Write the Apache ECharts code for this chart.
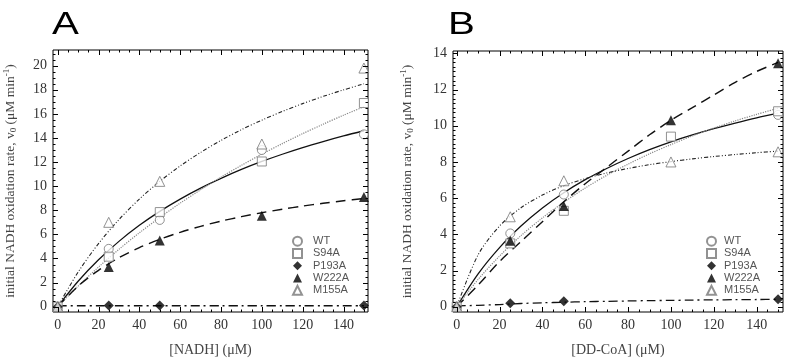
<!DOCTYPE html>
<html>
<head>
<meta charset="utf-8">
<script src="https://cdn.jsdelivr.net/npm/echarts@6/dist/echarts.min.js"></script>
<style>
  html, body { margin: 0; padding: 0; background: #fff; }
  #chart { width: 787px; height: 358px; }
</style>
</head>
<body>
<div id="chart"></div>
<script>
// substrate concentrations (uM) of the measured points
const concX = [0, 25, 50, 100, 150];

// panel A: [NADH] varied
const aWT = [0, 4.8, 7.2, 13.0, 14.3];
const aS94A = [0, 4.15, 7.85, 12.05, 16.9];
const aP193A = [0, 0.1, 0.1, null, 0.1];
const aW222A = [0, 3.3, 5.5, 7.55, 9.1];
const aM155A = [0, 7.0, 10.4, 13.5, 19.8];

// panel B: [DD-CoA] varied
const bWT = [0, 4.05, 6.2, null, 10.6];
const bS94A = [0, 3.5, 5.3, 9.4, 10.8];
const bP193A = [0, 0.19, 0.31, null, 0.41];
const bW222A = [0, 3.65, 5.56, 10.3, 13.45];
const bM155A = [0, 4.97, 6.96, 8.0, 8.56];

// fitted curves, every 10 uM
const fitX = [0, 10, 20, 30, 40, 50, 60, 70, 80, 90, 100, 110, 120, 130, 140, 150];
const aFitSolid = [0, 2.11, 3.89, 5.42, 6.75, 7.91, 8.93, 9.84, 10.65, 11.39, 12.05, 12.65, 13.2, 13.7, 14.17, 14.6];
const aFitDotted = [0, 1.71, 3.29, 4.76, 6.13, 7.4, 8.59, 9.7, 10.75, 11.73, 12.66, 13.53, 14.36, 15.14, 15.89, 16.59];
const aFitDashDot = [0.08, 0.08, 0.08, 0.08, 0.08, 0.08, 0.08, 0.08, 0.08, 0.08, 0.08, 0.08, 0.08, 0.08, 0.08, 0.08];
const aFitDash = [0, 1.71, 3.02, 4.06, 4.9, 5.59, 6.17, 6.67, 7.1, 7.47, 7.8, 8.09, 8.35, 8.58, 8.79, 8.98];
const aFitDashDotDot = [0, 2.87, 5.24, 7.23, 8.93, 10.4, 11.68, 12.8, 13.8, 14.69, 15.48, 16.2, 16.85, 17.45, 17.99, 18.5];

const bFitSolid = [0, 1.82, 3.27, 4.46, 5.46, 6.3, 7.02, 7.64, 8.19, 8.68, 9.11, 9.49, 9.84, 10.15, 10.44, 10.7];
const bFitDotted = [0, 1.51, 2.8, 3.93, 4.91, 5.78, 6.56, 7.26, 7.88, 8.45, 8.96, 9.44, 9.87, 10.27, 10.63, 10.97];
const bFitDashDot = [0.05, 0.08, 0.12, 0.18, 0.22, 0.25, 0.28, 0.3, 0.32, 0.34, 0.35, 0.37, 0.38, 0.39, 0.4, 0.41];
const bFitDash = [0, 1.2, 2.5, 3.6, 4.7, 5.8, 6.8, 7.7, 8.6, 9.5, 10.3, 11.0, 11.7, 12.4, 13.0, 13.5];
const bFitDashDotDot = [0, 2.87, 4.46, 5.47, 6.17, 6.69, 7.08, 7.39, 7.64, 7.85, 8.02, 8.17, 8.3, 8.41, 8.51, 8.6];

// tick labels
const xTicks = [0, 20, 40, 60, 80, 100, 120, 140];
const aYTicks = [0, 2, 4, 6, 8, 10, 12, 14, 16, 18, 20];
const bYTicks = [0, 2, 4, 6, 8, 10, 12, 14];
const legendNames = ['WT', 'S94A', 'P193A', 'W222A', 'M155A'];

function steps(from, to, step) {
  var out = [];
  for (var v = from; v <= to + 1e-9; v += step) out.push(+v.toFixed(3));
  return out;
}
// minor tick positions
const xMinor = steps(0, 150, 5);
const aYMinor = steps(0, 21, 0.5);
const bYMinor = steps(0, 14, 0.25);

const serif = 'Liberation Serif';
const sans = 'Liberation Sans';
const yName = 'initial NADH oxidation rate, v{sub|0} (μM min{sup|-1})';

const nameStyle = {
  fontFamily: serif, fontSize: 13.5, color: '#444',
  rich: {
    sub: { fontFamily: serif, fontSize: 9, color: '#444', padding: [7, 0, 0, 0] },
    sup: { fontFamily: serif, fontSize: 9, color: '#444', padding: [0, 0, 7, 0] }
  }
};

// labelled axis of a panel; the frame comes from the grid border
function mainAxis(grid, pos, min, max, labels, name, gap) {
  return {
    gridIndex: grid, type: 'value', position: pos, min: min, max: max,
    axisLine: { show: false, onZero: false },
    axisTick: { show: false },
    splitLine: { show: false },
    axisLabel: { show: true, customValues: labels, fontFamily: serif, fontSize: 14, color: '#333', margin: 6 },
    name: name, nameLocation: 'middle', nameGap: gap,
    nameTextStyle: Object.assign({}, nameStyle, { fontSize: pos === 'bottom' ? 14 : 13.5 })
  };
}

// inside ticks on all four sides of the frame, placed through the axis scale
function tickSeries(axis, dim, values, majors) {
  return {
    type: 'custom', xAxisIndex: axis, yAxisIndex: axis, silent: true, z: 10,
    data: values.map(function (v) { return [v, majors.indexOf(v) >= 0 ? 5 : 2.5]; }),
    renderItem: function (params, api) {
      var v = api.value(0), len = api.value(1), cs = params.coordSys;
      var segs;
      if (dim === 'x') {
        var px = Math.round(api.coord([v, 0])[0]) + 0.5;
        segs = [[px, cs.y + cs.height, px, cs.y + cs.height - len], [px, cs.y, px, cs.y + len]];
      } else {
        var py = Math.round(api.coord([0, v])[1]) + 0.5;
        segs = [[cs.x, py, cs.x + len, py], [cs.x + cs.width, py, cs.x + cs.width - len, py]];
      }
      return {
        type: 'group',
        children: segs.map(function (s) {
          return { type: 'line', shape: { x1: s[0], y1: s[1], x2: s[2], y2: s[3] }, style: { stroke: '#000', lineWidth: 1 } };
        })
      };
    }
  };
}

function pairs(xs, ys) {
  return xs.map(function (x, i) { return [x, ys[i]]; });
}

const hollow = { color: '#fff', borderColor: '#777', borderWidth: 1 };
const pointStyle = {
  WT: { symbol: 'circle', size: 9, itemStyle: hollow },
  S94A: { symbol: 'rect', size: 9, itemStyle: hollow },
  P193A: { symbol: 'diamond', size: 10, itemStyle: { color: '#000' } },
  W222A: { symbol: 'triangle', size: 10, itemStyle: { color: '#000' } },
  M155A: { symbol: 'triangle', size: 10, itemStyle: hollow }
};

function points(name, ys, axis) {
  var s = pointStyle[name];
  return {
    name: name, type: 'scatter', xAxisIndex: axis, yAxisIndex: axis,
    symbol: s.symbol, symbolSize: s.size, itemStyle: s.itemStyle, z: 5,
    data: pairs(concX, ys)
  };
}

function fit(ys, axis, color, width, dash) {
  return {
    name: 'fit', type: 'line', xAxisIndex: axis, yAxisIndex: axis,
    smooth: 0.3, showSymbol: false, symbol: 'none', silent: true, z: 2,
    lineStyle: { color: color, width: width, type: dash },
    data: pairs(fitX, ys)
  };
}

function legendAt(left, pad) {
  return {
    orient: 'vertical', left: left, top: 230,
    itemWidth: 9, itemHeight: 9, itemGap: 0,
    textStyle: { fontFamily: sans, fontSize: 11, lineHeight: 12.3, color: '#555', padding: [0, 0, 0, pad] },
    data: legendNames
  };
}

const chart = echarts.init(document.getElementById('chart'), null, { renderer: 'canvas' });

chart.setOption({
  animation: false,
  backgroundColor: '#fff',
  graphic: [
    { type: 'text', left: 52, top: 10, scaleX: 1.3, style: { text: 'A', font: '31px "Liberation Sans"', fill: '#000' } },
    { type: 'text', left: 448, top: 10, scaleX: 1.3, style: { text: 'B', font: '31px "Liberation Sans"', fill: '#000' } }
  ],
  grid: [
    { left: 53, top: 50, width: 315, height: 262, show: true, borderColor: '#000', borderWidth: 1, outerBoundsMode: 'none' },
    { left: 453, top: 51, width: 330, height: 261, show: true, borderColor: '#000', borderWidth: 1, outerBoundsMode: 'none' }
  ],
  xAxis: [
    mainAxis(0, 'bottom', -2.3, 152, xTicks, '[NADH] (μM)', 31),
    mainAxis(1, 'bottom', -1.73, 152.3, xTicks, '[DD-CoA] (μM)', 31)
  ],
  yAxis: [
    mainAxis(0, 'left', -0.44, 21.3, aYTicks, yName, 35),
    mainAxis(1, 'left', -0.29, 14.13, bYTicks, yName, 38)
  ],
  legend: [legendAt(287, 6), legendAt(701, 3)],
  series: [
    tickSeries(0, 'x', xMinor, xTicks),
    tickSeries(0, 'y', aYMinor, aYTicks),
    tickSeries(1, 'x', xMinor, xTicks),
    tickSeries(1, 'y', bYMinor, bYTicks),

    fit(aFitSolid, 0, '#111', 1.3, 'solid'),
    fit(aFitDotted, 0, '#888', 1.2, 'dotted'),
    fit(aFitDashDot, 0, '#111', 1.3, [9, 4, 2, 4]),
    fit(aFitDash, 0, '#111', 1.4, [10, 6]),
    fit(aFitDashDotDot, 0, '#222', 1.1, [4, 2, 1, 2, 1, 2]),
    points('WT', aWT, 0),
    points('S94A', aS94A, 0),
    points('P193A', aP193A, 0),
    points('W222A', aW222A, 0),
    points('M155A', aM155A, 0),

    fit(bFitSolid, 1, '#111', 1.3, 'solid'),
    fit(bFitDotted, 1, '#888', 1.2, 'dotted'),
    fit(bFitDashDot, 1, '#111', 1.3, [9, 4, 2, 4]),
    fit(bFitDash, 1, '#111', 1.4, [10, 6]),
    fit(bFitDashDotDot, 1, '#222', 1.1, [4, 2, 1, 2, 1, 2]),
    points('WT', bWT, 1),
    points('S94A', bS94A, 1),
    points('P193A', bP193A, 1),
    points('W222A', bW222A, 1),
    points('M155A', bM155A, 1)
  ]
});
</script>
</body>
</html>
